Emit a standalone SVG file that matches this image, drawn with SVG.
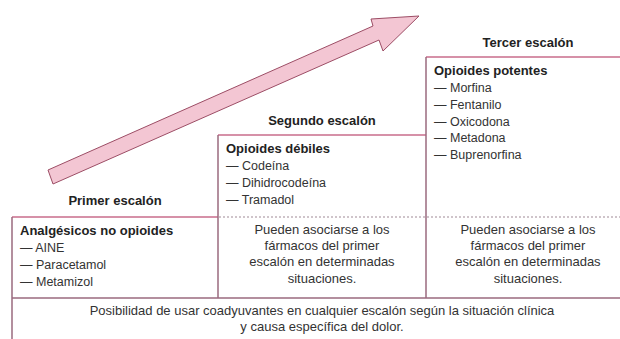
<svg xmlns="http://www.w3.org/2000/svg" width="620" height="339" viewBox="0 0 620 339">
<style>
  .bg{fill:#ffffff}
  .top{stroke:#c96d8b;stroke-width:1.5;fill:none}
  .side{stroke:#9a6a7e;stroke-width:1.5;fill:none}
  .dot{stroke:#a08a96;stroke-width:1.2;stroke-dasharray:2 2;fill:none}
  .title{font-family:"Liberation Sans",Arial,sans-serif;font-size:13px;font-weight:bold;fill:#222;text-anchor:middle}
  .head{font-family:"Liberation Sans",Arial,sans-serif;font-size:13px;font-weight:bold;fill:#222}
  .item{font-family:"Liberation Sans",Arial,sans-serif;font-size:12.5px;fill:#333}
  .note{font-family:"Liberation Sans",Arial,sans-serif;font-size:13px;fill:#333;text-anchor:middle}
  .arrow{fill:#f3c6d3;stroke:#9c4d65;stroke-width:1;stroke-linejoin:miter}
</style>
<rect class="bg" x="0" y="0" width="620" height="339"/>

<g id="connectors">
  <polygon class="arrow" points="48,170 373,26 371,19 419,16 383,51 379,40 53,184"/>
</g>

<g id="frame">
  <line class="top" x1="426" y1="57" x2="620" y2="57"/>
  <line class="top" x1="218" y1="135" x2="426" y2="135"/>
  <line class="top" x1="12" y1="217" x2="218" y2="217"/>
  <line class="dot" x1="219" y1="217" x2="620" y2="217"/>
  <line class="side" x1="426" y1="57" x2="426" y2="298"/>
  <line class="side" x1="218" y1="135" x2="218" y2="298"/>
  <line class="side" x1="12" y1="217" x2="12" y2="339"/>
  <line class="side" x1="12" y1="298" x2="620" y2="298"/>
</g>

<g id="step1">
  <text class="title" x="115" y="205">Primer escalón</text>
  <text class="head" x="20" y="235">Analgésicos no opioides</text>
  <text class="item" x="20" y="252">— AINE</text>
  <text class="item" x="20" y="269">— Paracetamol</text>
  <text class="item" x="20" y="286">— Metamizol</text>
</g>

<g id="step2">
  <text class="title" x="322" y="125">Segundo escalón</text>
  <text class="head" x="226" y="153">Opioides débiles</text>
  <text class="item" x="226" y="170">— Codeína</text>
  <text class="item" x="226" y="187">— Dihidrocodeína</text>
  <text class="item" x="226" y="204">— Tramadol</text>
  <text class="note" x="322" y="234">Pueden asociarse a los</text>
  <text class="note" x="322" y="250">fármacos del primer</text>
  <text class="note" x="322" y="266">escalón en determinadas</text>
  <text class="note" x="322" y="283">situaciones.</text>
</g>

<g id="step3">
  <text class="title" x="528" y="47">Tercer escalón</text>
  <text class="head" x="434" y="75">Opioides potentes</text>
  <text class="item" x="434" y="92">— Morfina</text>
  <text class="item" x="434" y="109">— Fentanilo</text>
  <text class="item" x="434" y="126">— Oxicodona</text>
  <text class="item" x="434" y="142">— Metadona</text>
  <text class="item" x="434" y="159">— Buprenorfina</text>
  <text class="note" x="528" y="234">Pueden asociarse a los</text>
  <text class="note" x="528" y="250">fármacos del primer</text>
  <text class="note" x="528" y="266">escalón en determinadas</text>
  <text class="note" x="528" y="283">situaciones.</text>
</g>

<g id="adjuvants">
  <text class="note" x="322" y="315">Posibilidad de usar coadyuvantes en cualquier escalón según la situación clínica</text>
  <text class="note" x="322" y="331">y causa específica del dolor.</text>
</g>
</svg>
